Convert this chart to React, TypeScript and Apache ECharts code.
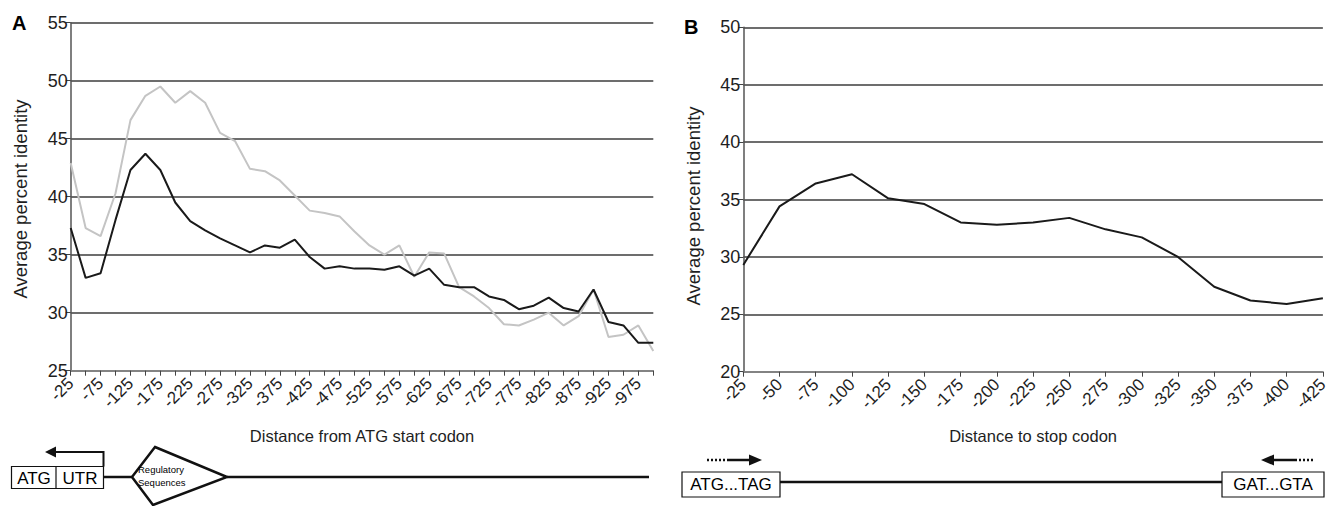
import React, { useEffect, useRef } from "react";
import * as echarts from "echarts";

const catsA: string[] = [
  "-25","-50","-75","-100","-125","-150","-175","-200","-225","-250",
  "-275","-300","-325","-350","-375","-400","-425","-450","-475","-500",
  "-525","-550","-575","-600","-625","-650","-675","-700","-725","-750",
  "-775","-800","-825","-850","-875","-900","-925","-950","-975","-1000",
];
const blackA: number[] = [
  37.3, 33.0, 33.4, 38.0, 42.3, 43.7, 42.3, 39.5, 37.9, 37.1,
  36.4, 35.8, 35.2, 35.8, 35.6, 36.3, 34.8, 33.8, 34.0, 33.8,
  33.8, 33.7, 34.0, 33.2, 33.8, 32.4, 32.2, 32.2, 31.4, 31.1,
  30.3, 30.6, 31.3, 30.4, 30.1, 32.0, 29.2, 28.9, 27.4, 27.4,
];
const greyA: number[] = [
  42.9, 37.3, 36.6, 40.3, 46.6, 48.7, 49.5, 48.1, 49.1, 48.1,
  45.5, 44.8, 42.4, 42.2, 41.4, 40.1, 38.8, 38.6, 38.3, 37.0,
  35.8, 35.0, 35.8, 33.1, 35.2, 35.1, 32.2, 31.4, 30.4, 29.0,
  28.9, 29.4, 30.0, 28.9, 29.7, 32.0, 27.9, 28.1, 28.9, 26.7,
];
const catsB: string[] = [
  "-25","-50","-75","-100","-125","-150","-175","-200","-225",
  "-250","-275","-300","-325","-350","-375","-400","-425",
];
const lineB: number[] = [
  29.3, 34.4, 36.4, 37.2, 35.1, 34.6, 33.0, 32.8, 33.0,
  33.4, 32.4, 31.7, 30.0, 27.4, 26.2, 25.9, 26.4,
];

const FONT = "'Liberation Sans', Arial, Helvetica, sans-serif";
const TXT = "#1e1e1e";

function xAxisCfg(data: string[], gridIndex: number, interval: number, name: string, gap: number) {
  return {
    type: "category",
    gridIndex,
    data,
    boundaryGap: false,
    name,
    nameLocation: "middle",
    nameGap: gap,
    nameTextStyle: { fontFamily: FONT, fontSize: 16.5, color: TXT },
    axisLine: { show: true, lineStyle: { color: "#8a8a8a", width: 1.5 } },
    axisTick: { show: true, interval: 0, length: 5, inside: false, lineStyle: { color: "#444", width: 1 } },
    axisLabel: { interval, rotate: 45, margin: 10, fontFamily: FONT, fontSize: 17, color: TXT },
    splitLine: { show: false },
  };
}

function yAxisCfg(gridIndex: number, min: number, max: number) {
  return {
    type: "value",
    gridIndex,
    min,
    max,
    interval: 5,
    axisLine: { show: true, lineStyle: { color: "#555", width: 1.5 } },
    axisTick: { show: true, length: 5, lineStyle: { color: "#444", width: 1 } },
    axisLabel: { margin: 3, fontFamily: FONT, fontSize: 18, color: TXT },
    splitLine: { show: true, lineStyle: { color: "#3c3c3c", width: 1.5 } },
  };
}

export default function App() {
  const ref = useRef<HTMLDivElement>(null);
  useEffect(() => {
    if (!ref.current) return;
    const chart = echarts.init(ref.current, null, { renderer: "svg" });
    const stroke = "#111";
    const option: any = {
      animation: false,
      backgroundColor: "#fff",
      grid: [
        { left: 70.7, top: 22.7, width: 582.6, height: 348 },
        { left: 743.3, top: 27.3, width: 583.4, height: 344.4 },
      ],
      xAxis: [
        xAxisCfg(catsA, 0, 1, "Distance from ATG start codon", 57),
        xAxisCfg(catsB, 1, 0, "Distance to stop codon", 56),
      ],
      yAxis: [yAxisCfg(0, 25, 55), yAxisCfg(1, 20, 50)],
      series: [
        {
          type: "line", xAxisIndex: 0, yAxisIndex: 0, data: greyA,
          showSymbol: false, symbol: "none",
          lineStyle: { color: "#c4c4c4", width: 2 }, z: 2,
        },
        {
          type: "line", xAxisIndex: 0, yAxisIndex: 0, data: blackA,
          showSymbol: false, symbol: "none",
          lineStyle: { color: "#1a1a1a", width: 2 }, z: 3,
        },
        {
          type: "line", xAxisIndex: 1, yAxisIndex: 1, data: lineB,
          showSymbol: false, symbol: "none",
          lineStyle: { color: "#1a1a1a", width: 2 }, z: 3,
        },
      ],
      graphic: [
        // panel letters
        { type: "text", x: 12, y: 13, style: { text: "A", fontFamily: FONT, fontSize: 20, fontWeight: "bold", fill: "#000" } },
        { type: "text", x: 684, y: 17, style: { text: "B", fontFamily: FONT, fontSize: 20, fontWeight: "bold", fill: "#000" } },
        // y titles
        { type: "text", x: 20, y: 199, rotation: Math.PI / 2, style: { text: "Average percent identity", align: "center", verticalAlign: "middle", fontFamily: FONT, fontSize: 18.5, fill: TXT } },
        { type: "text", x: 693, y: 206, rotation: Math.PI / 2, style: { text: "Average percent identity", align: "center", verticalAlign: "middle", fontFamily: FONT, fontSize: 18.5, fill: TXT } },
        // panel A diagram
        { type: "line", shape: { x1: 103.5, y1: 477, x2: 132, y2: 477 }, style: { stroke, lineWidth: 2.5 } },
        { type: "line", shape: { x1: 227, y1: 477, x2: 649, y2: 477 }, style: { stroke, lineWidth: 2.5 } },
        { type: "rect", shape: { x: 11.5, y: 466.5, width: 92, height: 22 }, style: { stroke, lineWidth: 1.2, fill: "#fff" } },
        { type: "line", shape: { x1: 56, y1: 466.5, x2: 56, y2: 488.5 }, style: { stroke, lineWidth: 1.2 } },
        { type: "text", x: 34, y: 478, style: { text: "ATG", align: "center", verticalAlign: "middle", fontFamily: FONT, fontSize: 17, fill: "#000" } },
        { type: "text", x: 80, y: 478, style: { text: "UTR", align: "center", verticalAlign: "middle", fontFamily: FONT, fontSize: 17, fill: "#000" } },
        { type: "polyline", shape: { points: [[103.5, 466.5], [103.5, 452], [55, 452]] }, style: { stroke, lineWidth: 2, fill: null } },
        { type: "polygon", shape: { points: [[45, 452], [56, 446.5], [56, 457.5]] }, style: { fill: stroke, stroke: "none" } },
        { type: "polygon", shape: { points: [[155, 447], [227, 477], [153, 505], [132, 477]] }, style: { stroke, lineWidth: 2.5, fill: "#fff" } },
        { type: "text", x: 138, y: 469, style: { text: "Regulatory", verticalAlign: "middle", fontFamily: FONT, fontSize: 9.5, fill: "#000" } },
        { type: "text", x: 138, y: 482, style: { text: "Sequences", verticalAlign: "middle", fontFamily: FONT, fontSize: 9.5, fill: "#000" } },
        // panel B diagram
        { type: "line", shape: { x1: 780, y1: 482, x2: 1222, y2: 482 }, style: { stroke, lineWidth: 2.5 } },
        { type: "rect", shape: { x: 682, y: 472, width: 98, height: 25 }, style: { stroke, lineWidth: 1.2, fill: "#fff" } },
        { type: "text", x: 731, y: 484.5, style: { text: "ATG...TAG", align: "center", verticalAlign: "middle", fontFamily: FONT, fontSize: 17, fill: "#000" } },
        { type: "rect", shape: { x: 1222, y: 472, width: 102, height: 25 }, style: { stroke, lineWidth: 1.2, fill: "#fff" } },
        { type: "text", x: 1273, y: 484.5, style: { text: "GAT...GTA", align: "center", verticalAlign: "middle", fontFamily: FONT, fontSize: 17, fill: "#000" } },
        { type: "line", shape: { x1: 707, y1: 460, x2: 729, y2: 460 }, style: { stroke, lineWidth: 2.5, lineDash: [2, 2] } },
        { type: "line", shape: { x1: 729, y1: 460, x2: 751, y2: 460 }, style: { stroke, lineWidth: 2.5 } },
        { type: "polygon", shape: { points: [[762, 460], [749, 454.5], [749, 465.5]] }, style: { fill: stroke, stroke: "none" } },
        { type: "polygon", shape: { points: [[1261, 460], [1274, 454.5], [1274, 465.5]] }, style: { fill: stroke, stroke: "none" } },
        { type: "line", shape: { x1: 1272, y1: 460, x2: 1295, y2: 460 }, style: { stroke, lineWidth: 2.5 } },
        { type: "line", shape: { x1: 1295, y1: 460, x2: 1314, y2: 460 }, style: { stroke, lineWidth: 2.5, lineDash: [2, 2] } },
      ],
    };
    chart.setOption(option);
    return () => chart.dispose();
  }, []);
  return (
    <div
      ref={ref}
      style={{ position: "fixed", left: 0, top: 0, width: 1331, height: 506, background: "#fff" }}
    />
  );
}
